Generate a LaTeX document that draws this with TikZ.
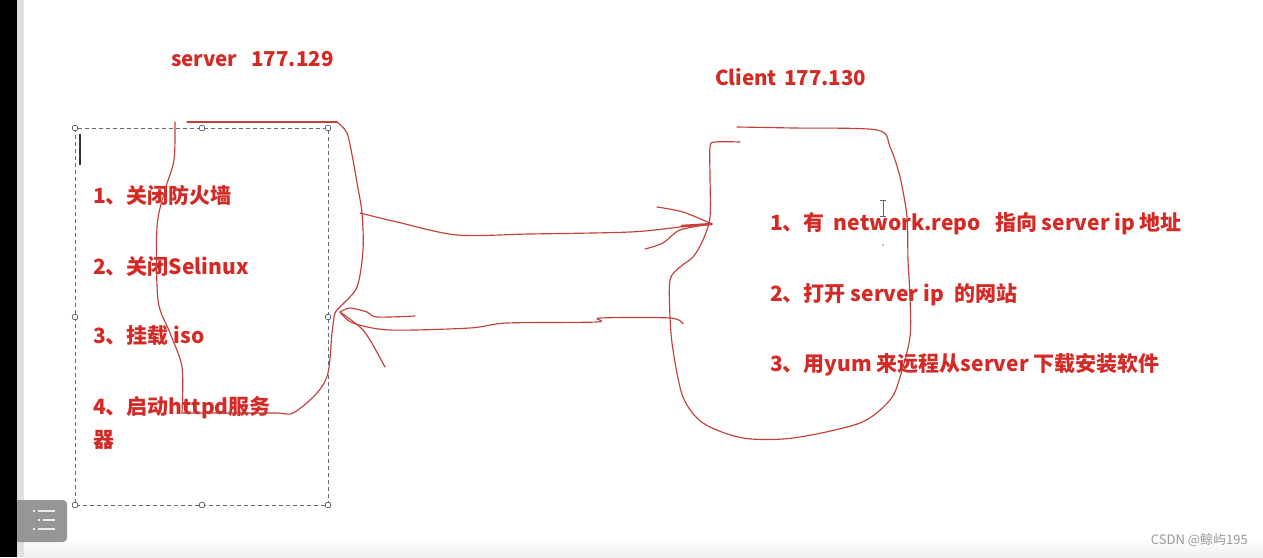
\documentclass[tikz,border=0pt]{standalone}
\usepackage{fontspec}
\newfontfamily\cjk{Noto Sans CJK SC}
\newfontfamily\wmfont{Noto Sans CJK SC}
\definecolor{txtred}{RGB}{212,42,38}
\definecolor{penred}{RGB}{196,62,58}
\definecolor{selgray}{RGB}{95,110,125}
\definecolor{btngray}{RGB}{150,150,150}
\begin{document}
\begin{tikzpicture}[x=1pt,y=-1pt,
  lbl/.style={anchor=west,inner sep=0pt,text=txtred,font=\cjk\bfseries\fontsize{21}{24}\selectfont},
  ttl/.style={lbl,font=\cjk\bfseries\fontsize{20.5}{23}\selectfont},
  pen/.style={draw=penred,line width=1.15pt,line join=round,line cap=round},
  handle/.style={draw=selgray,fill=white,line width=0.7pt,minimum size=5pt,inner sep=0pt,rounded corners=1pt,rectangle}
]
\useasboundingbox (0,0) rectangle (1263,557);
\fill[white] (0,0) rectangle (1263,557);
% screen edges
\fill[black] (0,0) rectangle (17,557);
\fill[gray!25] (17,0) rectangle (24,557);
\shade[top color=white,bottom color=gray!12] (24,538) rectangle (1263,557);
% menu button
\fill[btngray,rounded corners=4pt] (17,500) rectangle (67,542);
\fill[btngray] (17,500) rectangle (25,542);
\foreach \yy/\xa in {511/33,520/38,529/33}{
  \fill[white!85!gray] (\xa,\yy-1) rectangle (\xa+2,\yy+1);
  \fill[white!85!gray] (\xa+5,\yy-1) rectangle (55,\yy+1);
}
% selection box
\draw[selgray,dashed,dash pattern=on 4pt off 3pt,line width=0.7pt] (75,128) rectangle (328,505);
\foreach \p/\q in {75/128,202/128,328/128,75/317,328/317,75/505,202/505,328/505}
  \node[handle] at (\p,\q) {};
% text cursor
\draw[black!80,line width=1.4pt] (80,134) -- (80,165);
% titles
\node[ttl] (srv) at (171,59) {server\hspace{14pt}177.129};
\node[ttl] (cli) at (715,77) {Client\hspace{7pt}177.130};
% server list
\node[lbl] (s1) at (93,195) {1、关闭防火墙};
\node[lbl] (s2) at (93,266) {2、关闭Selinux};
\node[lbl] (s3) at (93,336) {3、挂载 iso};
\node[lbl] (s4) at (93,408) {4、启动httpd服务};
\node[lbl] (s4b) at (93,440) {器};
% client list
\node[lbl] (c1) at (770,224) {1、有\hspace{9pt}network.repo\hspace{14pt}指向 server ip 地址};
\node[lbl] (c2) at (770,295) {2、打开 server ip\hspace{6pt} 的网站};
\node[lbl] (c3) at (770,365) {3、用yum 来远程从server 下载安装软件};
% I-beam cursor
\draw[black!60,line width=1pt] (883,200) -- (883,216) (880,200) -- (886,200) (880,216) -- (886,216);
\fill[black!50] (883,245) circle (0.8pt);
% server blob
\coordinate (sout) at (360,213);
\coordinate (sin) at (340,312);
\draw[pen] (187,122) -- (337,122);
\draw[pen] plot[smooth,tension=0.5] coordinates {(337,122) (347,133) (353,160) (357,183) (362,213) (363,250) (357,287) (340,307) (335,313) (332,333) (328,373) (317,393) (293,413) (273,413) (182,413)};
\draw[pen] plot[smooth,tension=0.5] coordinates {(175,122) (174,160) (165,190) (157,227) (158,300) (170,333) (182,367) (182,413)};
% client blob
\coordinate (cin) at (712,224);
\coordinate (cout) at (683,324);
\draw[pen] plot[smooth,tension=0.5] coordinates {(737,127) (793,128) (877,130) (890,147) (900,177) (907,217) (908,260) (910,297) (910,337) (900,377) (890,400) (860,423) (793,438) (743,438) (703,423) (683,397) (673,350) (670,317) (670,280) (680,267) (693,257) (703,240) (710,217) (710,177) (710,147) (715,142) (740,142)};
% arrow server -> client
\draw[pen] plot[smooth,tension=0.5] coordinates {(sout) (397,222) (457,235) (530,234) (630,232) (680,227) (cin)};
\draw[pen] plot[smooth,tension=0.5] coordinates {(657,207) (683,212) (cin)};
\draw[pen] plot[smooth,tension=0.5] coordinates {(cin) (680,230) (663,243) (645,249)};
\draw[penred,line width=2.4pt] (681,226) -- (cin);
% arrow client -> server
\draw[pen] plot[smooth,tension=0.5] coordinates {(cout) (670,318) (600,318) (597,322) (507,323) (470,328) (390,330) (353,323) (sin)};
\draw[pen] plot[smooth,tension=0.5] coordinates {(sin) (350,308) (367,312) (377,317) (415,316)};
\draw[pen] plot[smooth,tension=0.5] coordinates {(sin) (360,327) (370,340) (385,367)};
% watermark
\node[anchor=east,inner sep=0pt,text=gray!80,font=\wmfont\fontsize{13}{15}\selectfont] (wm) at (1248,540) {CSDN @鲸屿195};
\end{tikzpicture}
\end{document}
